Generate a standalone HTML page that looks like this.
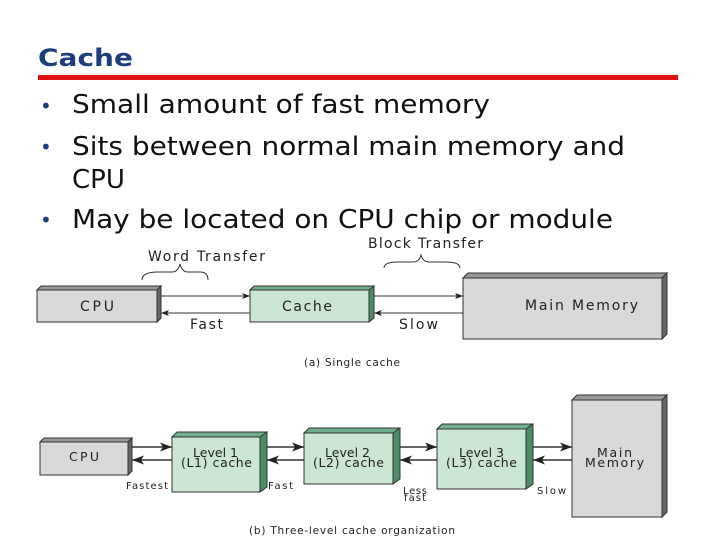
<!DOCTYPE html>
<html><head><style>
body{margin:0;width:720px;height:540px;background:#fff;overflow:hidden;font-family:"Liberation Sans",sans-serif}
</style></head><body>
<svg width="720" height="540" xmlns="http://www.w3.org/2000/svg" font-family="Liberation Sans, sans-serif">
<defs>
<marker id="a" markerWidth="8" markerHeight="6" refX="8" refY="3" orient="auto"><path d="M0,0L8,3L0,6L2,3z" fill="#222"/></marker>
</defs>
<text x="38" y="66" font-size="24" font-weight="bold" fill="#1c3f7c" font-family="DejaVu Sans, sans-serif" textLength="95" lengthAdjust="spacingAndGlyphs">Cache</text>
<rect x="38" y="75" width="640" height="5" fill="#e01010"/>
<g font-size="26" fill="#111" font-family="DejaVu Sans, sans-serif">
<text x="40" y="113" fill="#1c3f7c" font-size="20">•</text><text x="72" y="113" textLength="418" lengthAdjust="spacingAndGlyphs">Small amount of fast memory</text>
<text x="40" y="154" fill="#1c3f7c" font-size="20">•</text><text x="72" y="155" textLength="553" lengthAdjust="spacingAndGlyphs">Sits between normal main memory and</text>
<text x="72" y="188">CPU</text>
<text x="40" y="227" fill="#1c3f7c" font-size="20">•</text><text x="72" y="228" textLength="541" lengthAdjust="spacingAndGlyphs">May be located on CPU chip or module</text>
</g>
<g stroke="#333" stroke-width="1">
<path d="M37,290l4,-4h120l-4,4z" fill="#999"/><path d="M157,290l4,-4v32l-4,4z" fill="#666"/>
<rect x="37" y="290" width="120" height="32" fill="#d9d9d9"/>
<path d="M250,290l4,-4h120l-4,4z" fill="#6fae8a"/><path d="M369,290l5,-4v32l-5,4z" fill="#4a8d66"/>
<rect x="250" y="290" width="119" height="32" fill="#cbe6d3"/>
<path d="M463,278l5,-5h199l-5,5z" fill="#999"/><path d="M662,278l5,-5v61l-5,5z" fill="#666"/>
<rect x="463" y="278" width="199" height="61" fill="#d9d9d9"/>
<line x1="161" y1="296" x2="250" y2="296" marker-end="url(#a)"/>
<line x1="250" y1="313" x2="161" y2="313" marker-end="url(#a)"/>
<line x1="374" y1="296" x2="463" y2="296" marker-end="url(#a)"/>
<line x1="463" y1="313" x2="374" y2="313" marker-end="url(#a)"/>
<path d="M142,280q0,-8 16,-8h14q6,0 8,-8q2,8 8,8h12q8,0 8,8" fill="none"/>
<path d="M384,268q0,-6 14,-6h15q6,0 8,-7q2,7 8,7h16q15,0 15,6" fill="none"/>
<path d="M40,442l4,-4h88l-4,4z" fill="#999"/><path d="M128,442l4,-4v33l-4,4z" fill="#666"/>
<rect x="40" y="442" width="88" height="33" fill="#d9d9d9"/>
<path d="M172,437l5,-5h90l-5,5z" fill="#6fae8a"/><path d="M260,437l7,-5v55l-7,5z" fill="#4a8d66"/>
<rect x="172" y="437" width="88" height="55" fill="#cbe6d3"/>
<path d="M304,433l5,-5h90l-5,5z" fill="#6fae8a"/><path d="M393,433l7,-5v51l-7,5z" fill="#4a8d66"/>
<rect x="304" y="433" width="89" height="51" fill="#cbe6d3"/>
<path d="M437,429l5,-5h90l-5,5z" fill="#6fae8a"/><path d="M526,429l7,-5v60l-7,5z" fill="#4a8d66"/>
<rect x="437" y="429" width="89" height="60" fill="#cbe6d3"/>
<path d="M572,400l5,-5h90l-5,5z" fill="#999"/><path d="M662,400l5,-5v117l-5,5z" fill="#666"/>
<rect x="572" y="400" width="90" height="117" fill="#d9d9d9"/>
<g stroke-width="1.5">
<line x1="132" y1="447" x2="172" y2="447" marker-end="url(#a)"/><line x1="172" y1="460" x2="132" y2="460" marker-end="url(#a)"/>
<line x1="267" y1="447" x2="304" y2="447" marker-end="url(#a)"/><line x1="304" y1="460" x2="267" y2="460" marker-end="url(#a)"/>
<line x1="400" y1="447" x2="437" y2="447" marker-end="url(#a)"/><line x1="437" y1="460" x2="400" y2="460" marker-end="url(#a)"/>
<line x1="533" y1="447" x2="572" y2="447" marker-end="url(#a)"/><line x1="572" y1="460" x2="533" y2="460" marker-end="url(#a)"/>
</g>
</g>
<g font-size="14" fill="#222" font-family="DejaVu Sans, sans-serif" lengthAdjust="spacingAndGlyphs">
<text x="80" y="311" textLength="34">CPU</text><text x="282" y="311" textLength="50">Cache</text><text x="525" y="310" textLength="113">Main Memory</text>
<text x="148" y="261" textLength="117">Word Transfer</text><text x="368" y="248" textLength="115">Block Transfer</text>
<text x="190" y="329" textLength="33">Fast</text><text x="399" y="329" textLength="39">Slow</text>
<text x="304" y="366" font-size="10.5" textLength="96">(a) Single cache</text>
<text x="69" y="461" font-size="12.5" textLength="30">CPU</text>
<text x="193" y="457" font-size="12.5" textLength="45">Level 1</text><text x="181" y="467" font-size="12.5" textLength="71">(L1) cache</text>
<text x="325" y="457" font-size="12.5" textLength="45">Level 2</text><text x="313" y="467" font-size="12.5" textLength="71">(L2) cache</text>
<text x="459" y="457" font-size="12.5" textLength="45">Level 3</text><text x="446" y="467" font-size="12.5" textLength="71">(L3) cache</text>
<text x="597" y="457" font-size="12.5" textLength="35">Main</text><text x="585" y="467" font-size="12.5" textLength="59">Memory</text>
<text x="126" y="489" font-size="10" textLength="42">Fastest</text><text x="268" y="489" font-size="10" textLength="25">Fast</text>
<text x="403" y="494" font-size="10" textLength="24">Less</text><text x="404" y="501" font-size="10" textLength="22">fast</text>
<text x="537" y="494" font-size="10" textLength="29">Slow</text>
<text x="249" y="534" font-size="10.5" textLength="206">(b) Three-level cache organization</text>
</g>
</svg>
</body></html>
